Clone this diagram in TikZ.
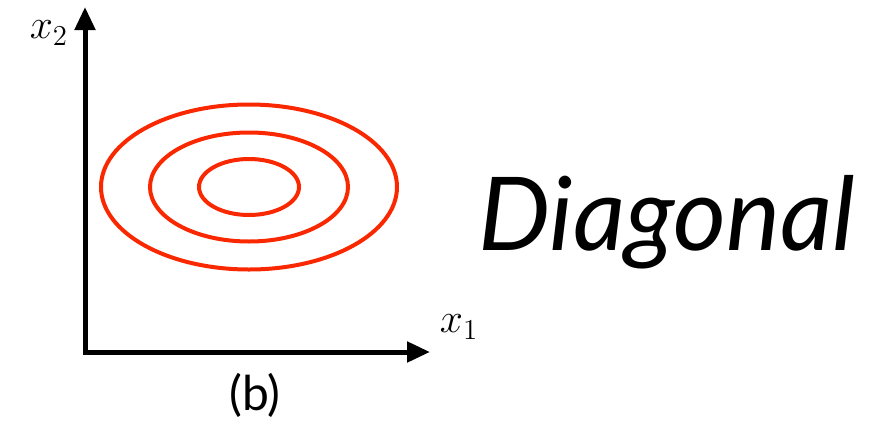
\documentclass[tikz,border=0pt]{standalone}
\usepackage{fontspec}
\newfontfamily\lato{Lato}
\usetikzlibrary{arrows.meta}
\definecolor{contour}{RGB}{250,40,0}

\begin{document}
\begin{tikzpicture}[
  x=0.5pt, y=-0.5pt,
  ax/.style={line width=2.5pt, {Triangle[length=11.5pt,width=10pt]}-{Triangle[length=11.5pt,width=10pt]}},
  c/.style={draw=contour, line width=2pt},
  lab/.style={font=\fontsize{22}{26}\selectfont, inner sep=0pt},
  tag/.style={font=\lato\fontsize{24}{28}\selectfont, inner sep=0pt, anchor=base}
]
\useasboundingbox (0,0) rectangle (881,423);
% axes
\coordinate (o) at (85,352);
\coordinate (ytop) at (85,7);
\coordinate (xend) at (430,352);
\draw[ax] (ytop) -- (o) -- (xend);
\node[lab] (x2) at (49,33) {$x_2$};
\node[lab] (x1) at (459,327) {$x_1$};
% contours
\coordinate (m) at (249,187);
\draw[c] (m) ellipse [x radius=148, y radius=82.5];
\draw[c] (m) ellipse [x radius=99, y radius=54.5];
\draw[c] (m) ellipse [x radius=50, y radius=28];
% captions
\node[tag] (capa) at (255,-7) {(a)};
\node[tag] (capb) at (255,410) {(b)};
\node[font=\lato\itshape\fontsize{51}{60}\selectfont, anchor=base west, inner sep=0pt] (diag) at (478,250) {Diagonal};
\end{tikzpicture}
\end{document}
